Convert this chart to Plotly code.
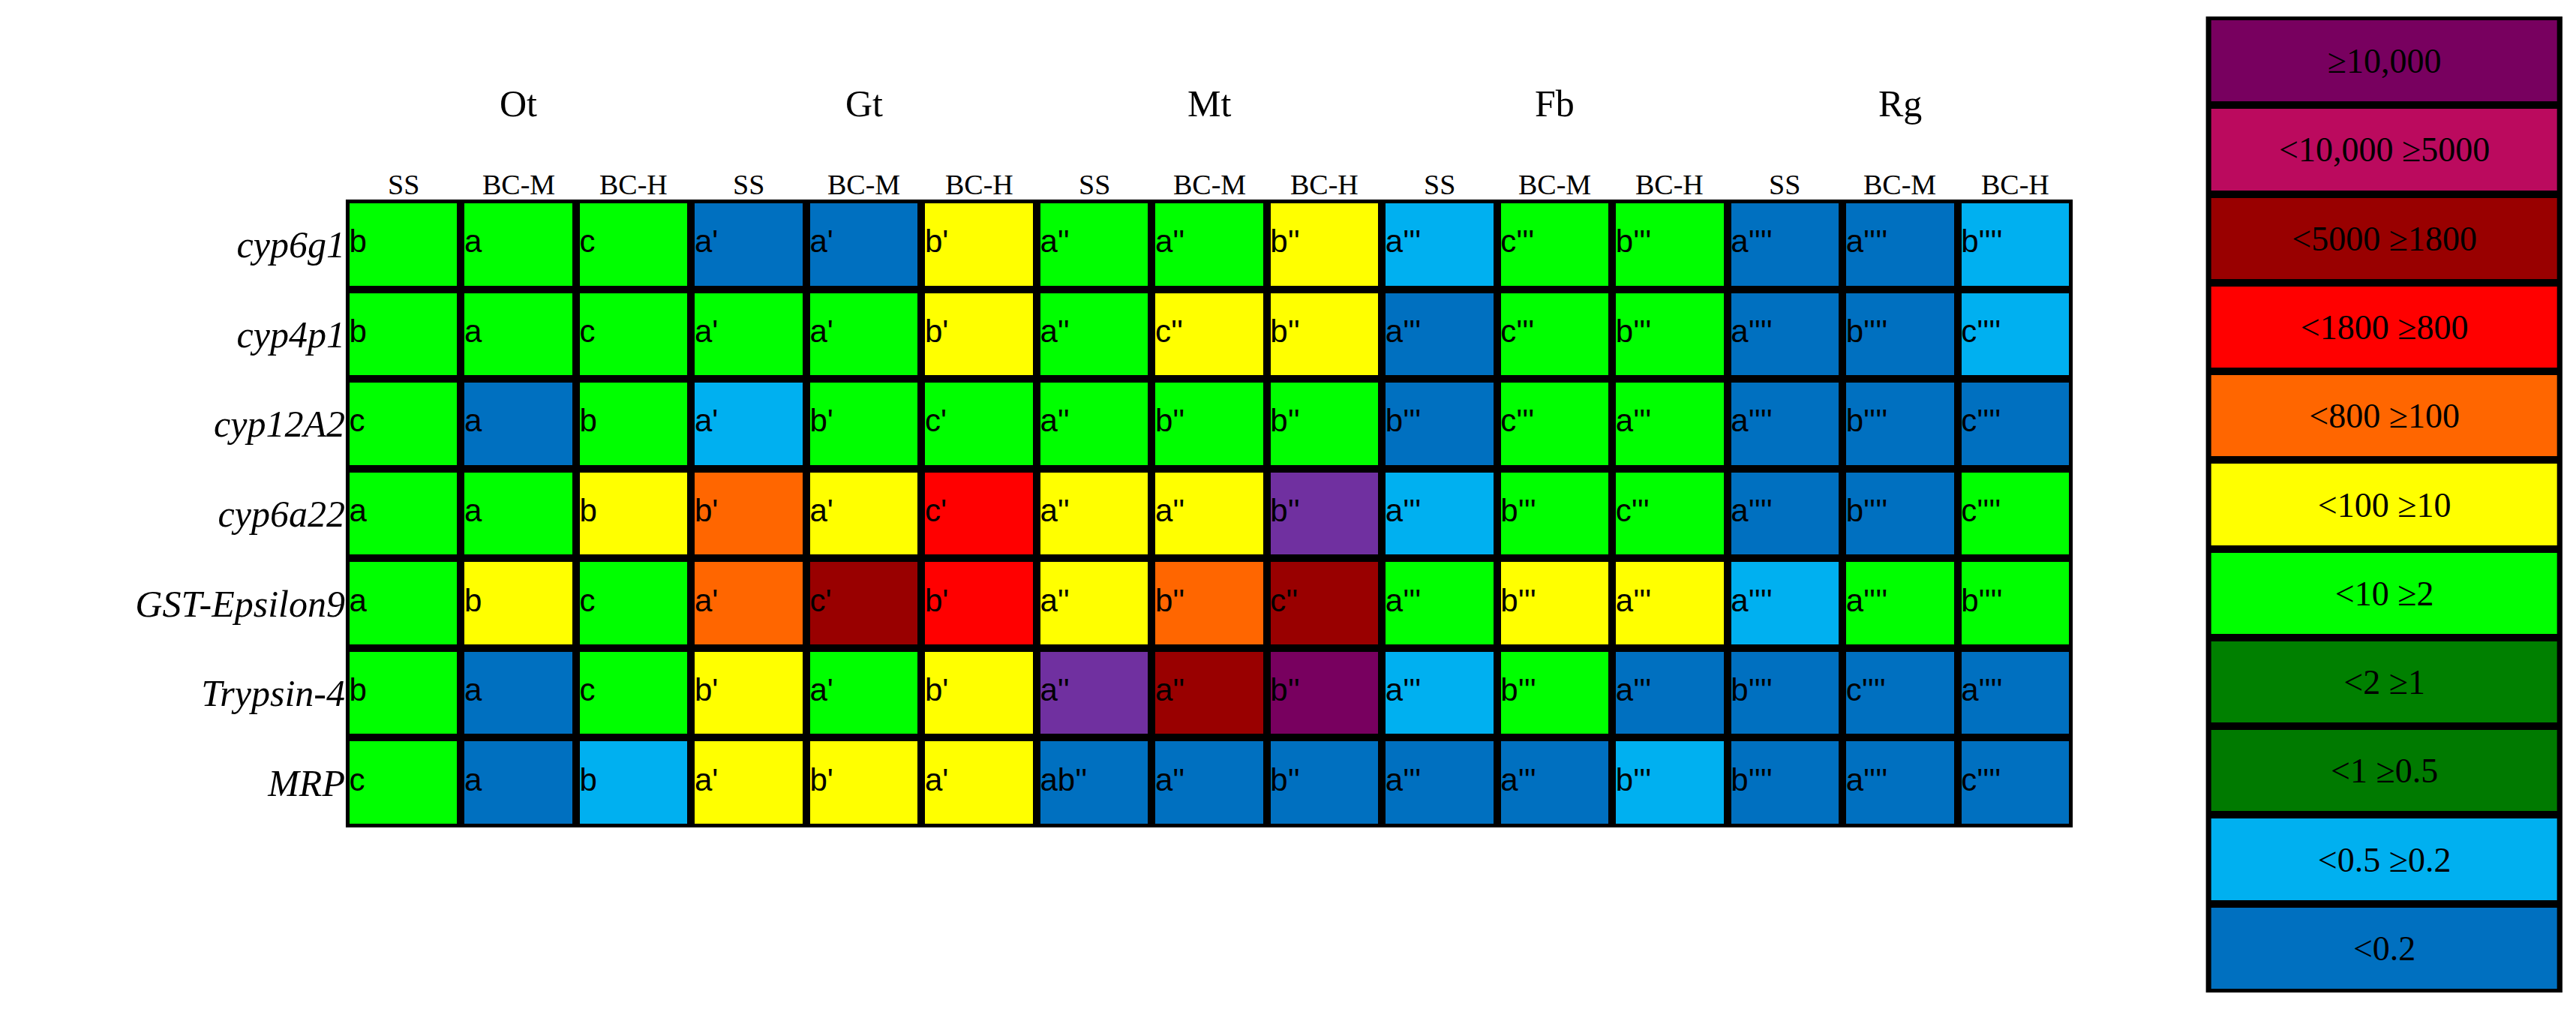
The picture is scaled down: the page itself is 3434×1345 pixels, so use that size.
import plotly.graph_objects as go

# ── DATA ──
groups = ["Ot", "Gt", "Mt", "Fb", "Rg"]
subcols = ["SS", "BC-M", "BC-H"]
genes = ["cyp6g1", "cyp4p1", "cyp12A2", "cyp6a22", "GST-Epsilon9", "Trypsin-4", "MRP"]

# colour class per cell (keys of PALETTE)
cell_class = [
    ["G", "G", "G", "B", "B", "Y", "G", "G", "Y", "L", "G", "G", "B", "B", "L"],
    ["G", "G", "G", "G", "G", "Y", "G", "Y", "Y", "B", "G", "G", "B", "B", "L"],
    ["G", "B", "G", "L", "G", "G", "G", "G", "G", "B", "G", "G", "B", "B", "B"],
    ["G", "G", "Y", "O", "Y", "R", "Y", "Y", "P", "L", "G", "G", "B", "B", "G"],
    ["G", "Y", "G", "O", "DR", "R", "Y", "O", "DR", "G", "Y", "Y", "L", "G", "G"],
    ["G", "B", "G", "Y", "G", "Y", "P", "DR", "DP", "L", "G", "B", "B", "B", "B"],
    ["G", "B", "L", "Y", "Y", "Y", "B", "B", "B", "B", "B", "L", "B", "B", "B"],
]

p1, p2, p3, p4 = "'", "''", "'''", "''''"
cell_letters = [
    ["b", "a", "c", "a"+p1, "a"+p1, "b"+p1, "a"+p2, "a"+p2, "b"+p2, "a"+p3, "c"+p3, "b"+p3, "a"+p4, "a"+p4, "b"+p4],
    ["b", "a", "c", "a"+p1, "a"+p1, "b"+p1, "a"+p2, "c"+p2, "b"+p2, "a"+p3, "c"+p3, "b"+p3, "a"+p4, "b"+p4, "c"+p4],
    ["c", "a", "b", "a"+p1, "b"+p1, "c"+p1, "a"+p2, "b"+p2, "b"+p2, "b"+p3, "c"+p3, "a"+p3, "a"+p4, "b"+p4, "c"+p4],
    ["a", "a", "b", "b"+p1, "a"+p1, "c"+p1, "a"+p2, "a"+p2, "b"+p2, "a"+p3, "b"+p3, "c"+p3, "a"+p4, "b"+p4, "c"+p4],
    ["a", "b", "c", "a"+p1, "c"+p1, "b"+p1, "a"+p2, "b"+p2, "c"+p2, "a"+p3, "b"+p3, "a"+p3, "a"+p4, "a"+p4, "b"+p4],
    ["b", "a", "c", "b"+p1, "a"+p1, "b"+p1, "a"+p2, "a"+p2, "b"+p2, "a"+p3, "b"+p3, "a"+p3, "b"+p4, "c"+p4, "a"+p4],
    ["c", "a", "b", "a"+p1, "b"+p1, "a"+p1, "ab"+p2, "a"+p2, "b"+p2, "a"+p3, "a"+p3, "b"+p3, "b"+p4, "a"+p4, "c"+p4],
]

legend_labels = ["≥10,000", "<10,000 ≥5000", "<5000 ≥1800", "<1800 ≥800", "<800 ≥100",
                 "<100 ≥10", "<10 ≥2", "<2 ≥1", "<1 ≥0.5", "<0.5 ≥0.2", "<0.2"]
legend_class = ["DP", "M", "DR", "R", "O", "Y", "G", "DG", "DG2", "L", "B"]

PALETTE = {
    "DP": "#78005F", "M": "#BB0A5E", "DR": "#990000", "R": "#FF0000", "O": "#FF6600",
    "Y": "#FFFF00", "G": "#00FF00", "DG": "#008000", "DG2": "#007A00", "L": "#00B0F0",
    "B": "#0070C0", "P": "#7030A0",
}
keys = list(PALETTE)
n = len(keys)
colorscale = []
for i, k in enumerate(keys):
    colorscale += [[i / n, PALETTE[k]], [(i + 1) / n, PALETTE[k]]]

SERIF = "Liberation Serif"
SANS = "Liberation Sans"

fig = go.Figure()

ncol = len(groups) * len(subcols)
xs = list(range(ncol))
z = [[keys.index(c) + 0.5 for c in row] for row in cell_class]
fig.add_trace(go.Heatmap(
    z=z, x=xs, y=genes, zmin=0, zmax=n, colorscale=colorscale, showscale=False,
    xgap=10, ygap=10, hoverinfo="skip", xaxis="x", yaxis="y",
))
# letters, left aligned in cells
tx, ty, tt = [], [], []
for r, g in enumerate(genes):
    for c in xs:
        tx.append(c - 0.47)
        ty.append(g)
        tt.append(cell_letters[r][c])
fig.add_trace(go.Scatter(
    x=tx, y=ty, text=tt, mode="text", textposition="middle right",
    textfont=dict(family=SANS, size=42, color="black"), hoverinfo="skip",
    xaxis="x", yaxis="y", showlegend=False,
))

# legend column
lz = [[keys.index(c) + 0.5] for c in legend_class]
fig.add_trace(go.Heatmap(
    z=lz, x=[0], y=legend_labels, zmin=0, zmax=n, colorscale=colorscale, showscale=False,
    xgap=14, ygap=10, text=[[t] for t in legend_labels], texttemplate="%{text}",
    textfont=dict(family=SERIF, size=46, color="black"), hoverinfo="skip",
    xaxis="x2", yaxis="y2",
))

annotations = []
for gi, g in enumerate(groups):
    annotations.append(dict(x=gi * 3 + 1, y=0.926, xref="x", yref="paper", text=g,
                            showarrow=False, font=dict(family=SERIF, size=50, color="black")))
    for si, s in enumerate(subcols):
        annotations.append(dict(x=gi * 3 + si, y=0.84, xref="x", yref="paper", text=s,
                                showarrow=False, font=dict(family=SERIF, size=38, color="black")))

fig.update_layout(
    width=3434, height=1345,
    paper_bgcolor="white", plot_bgcolor="black",
    margin=dict(l=0, r=0, t=0, b=0),
    xaxis=dict(domain=[0.1319, 0.8023], range=[-0.5, ncol - 0.5], showticklabels=False,
               showgrid=False, zeroline=False),
    yaxis=dict(domain=[0.1859, 0.8082], autorange="reversed", showgrid=False, zeroline=False,
               tickvals=genes, ticktext=[f"<i>{g}</i>" for g in genes], ticks="", ticklen=0,
               tickfont=dict(family=SERIF, size=50, color="black")),
    xaxis2=dict(domain=[0.854, 0.9924], range=[-0.5, 0.5], showticklabels=False,
                showgrid=False, zeroline=False),
    yaxis2=dict(domain=[0.0223, 0.9896], autorange="reversed", showticklabels=False,
                showgrid=False, zeroline=False),
    annotations=annotations,
)

fig.write_html("out.html")
